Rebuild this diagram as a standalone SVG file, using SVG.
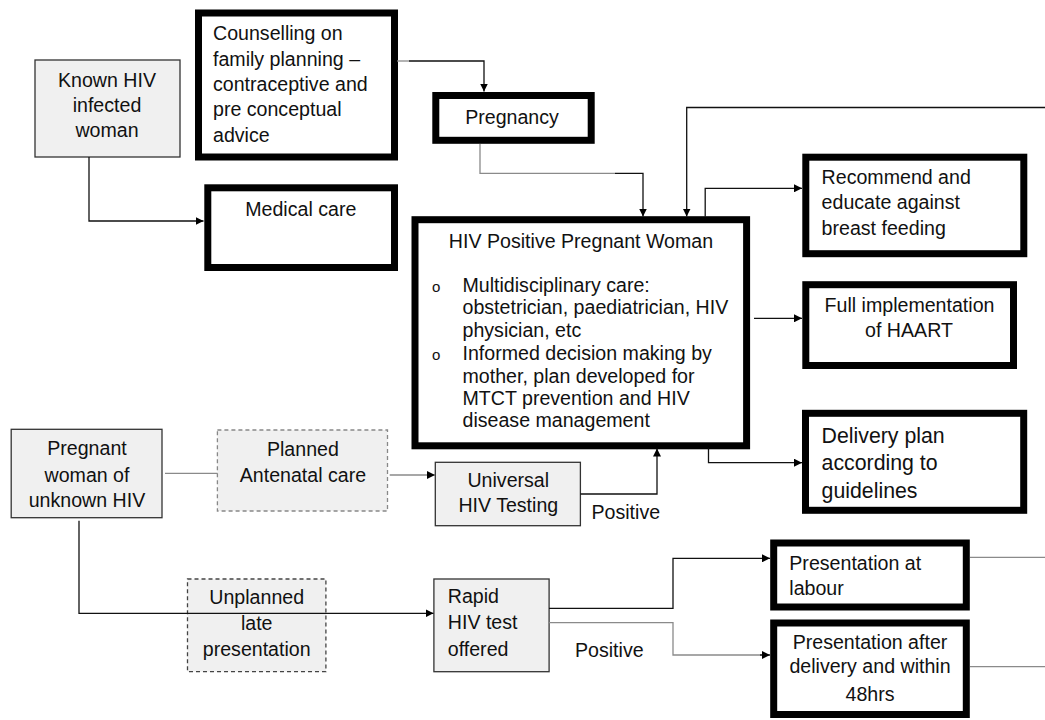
<svg xmlns="http://www.w3.org/2000/svg" width="1045" height="720" viewBox="0 0 1045 720">
<style>
text{font-family:"Liberation Sans",Arial,sans-serif;font-size:19.6px;fill:#111}
.c{text-anchor:middle}
.thick{fill:#fff;stroke:#000;stroke-width:7}
.thin{fill:#f0f0f0;stroke:#333;stroke-width:1.3}
.dash1{fill:#f0f0f0;stroke:#888;stroke-width:1.3;stroke-dasharray:4 3}
.dash2{fill:#f0f0f0;stroke:#444;stroke-width:1.3;stroke-dasharray:4 3}
.ln{fill:none;stroke:#111;stroke-width:1.3}
.lg{fill:none;stroke:#8a8a8a;stroke-width:1.3}
.big{font-size:21.3px}
.bul{font-size:15px}
</style>
<defs>
<marker id="ah" markerWidth="9" markerHeight="8" refX="8" refY="4" orient="auto" markerUnits="userSpaceOnUse">
<path d="M0,0 L8,4 L0,8 z" fill="#000"/>
</marker>
</defs>

<g id="known-hiv">
<rect class="thin" x="35" y="60" width="145" height="97"/>
<text class="c" x="107" y="87.3">Known HIV</text>
<text class="c" x="107" y="112">infected</text>
<text class="c" x="107" y="137.3">woman</text>
</g>

<g id="counselling">
<rect class="thick" x="198.5" y="13" width="196" height="144"/>
<text x="213" y="40">Counselling on</text>
<text x="213" y="65.5">family planning –</text>
<text x="213" y="90.7">contraceptive and</text>
<text x="213" y="116">pre conceptual</text>
<text x="213" y="141.7">advice</text>
</g>

<g id="medical-care">
<rect class="thick" x="207.8" y="187.8" width="186.7" height="79.7"/>
<text class="c" x="300.8" y="216">Medical care</text>
</g>

<g id="pregnancy">
<rect class="thick" x="435.8" y="95.5" width="155.4" height="44.8"/>
<text class="c" x="512" y="124.3">Pregnancy</text>
</g>

<g id="hiv-positive">
<rect class="thick" x="415" y="219.7" width="331.6" height="226.1"/>
<text class="c" x="581" y="248.3">HIV Positive Pregnant Woman</text>
<text class="c bul" x="436.2" y="292.3">o</text>
<text x="462.5" y="292.3">Multidisciplinary care:</text>
<text x="462.5" y="314.3">obstetrician, paediatrician, HIV</text>
<text x="462.5" y="336.7">physician, etc</text>
<text class="c bul" x="436.2" y="360">o</text>
<text x="462.5" y="360">Informed decision making by</text>
<text x="462.5" y="382.7">mother, plan developed for</text>
<text x="462.5" y="405">MTCT prevention and HIV</text>
<text x="462.5" y="426.7">disease management</text>
</g>

<g id="recommend">
<rect class="thick" x="805.8" y="157.2" width="218" height="96.5"/>
<text x="821.6" y="184.3">Recommend and</text>
<text x="821.6" y="209.3">educate against</text>
<text x="821.6" y="235">breast feeding</text>
</g>

<g id="haart">
<rect class="thick" x="805.8" y="284.7" width="207.7" height="80.8"/>
<text class="c" x="909.5" y="312.3">Full implementation</text>
<text class="c" x="909" y="336.7">of HAART</text>
</g>

<g id="delivery-plan">
<rect class="thick" x="805.5" y="413.3" width="218.2" height="97"/>
<text class="big" x="821.6" y="443.3">Delivery plan</text>
<text class="big" x="821.6" y="470">according to</text>
<text class="big" x="821.6" y="497.5">guidelines</text>
</g>

<g id="pregnant-unknown">
<rect class="thin" x="11.2" y="429.3" width="150.8" height="88.4"/>
<text class="c" x="87" y="455">Pregnant</text>
<text class="c" x="87" y="481.7">woman of</text>
<text class="c" x="87" y="506.7">unknown HIV</text>
</g>

<g id="planned-antenatal">
<rect class="dash1" x="217.4" y="430" width="170.1" height="81"/>
<text class="c" x="302.9" y="456">Planned</text>
<text class="c" x="302.9" y="481.7">Antenatal care</text>
</g>

<g id="universal-testing">
<rect class="thin" x="435.3" y="462.3" width="145.1" height="63.4"/>
<text class="c" x="508.3" y="486.7">Universal</text>
<text class="c" x="508.3" y="512">HIV Testing</text>
<text x="591.5" y="519.3">Positive</text>
</g>

<g id="unplanned-late">
<rect class="dash2" x="187.5" y="579" width="138.4" height="92.7"/>
<text class="c" x="256.7" y="604">Unplanned</text>
<text class="c" x="256.7" y="630">late</text>
<text class="c" x="256.7" y="656">presentation</text>
</g>

<g id="rapid-test">
<rect class="thin" x="433.9" y="579" width="115.2" height="92.7"/>
<text x="447.8" y="603">Rapid</text>
<text x="447.8" y="629.3">HIV test</text>
<text x="447.8" y="656">offered</text>
<text x="575" y="657.3">Positive</text>
</g>

<g id="presentation-labour">
<rect class="thick" x="773.7" y="543" width="192.6" height="64"/>
<text x="789.3" y="570">Presentation at</text>
<text x="789.3" y="595">labour</text>
</g>

<g id="presentation-after">
<rect class="thick" x="773.7" y="623" width="192.6" height="91.5"/>
<text class="c" x="870" y="649.3">Presentation after</text>
<text class="c" x="870" y="673">delivery and within</text>
<text class="c" x="870" y="700.7">48hrs</text>
</g>

<g id="connectors">
<path class="lg" d="M397,61 H409"/>
<path class="ln" d="M409,61 H484 V91.5" marker-end="url(#ah)"/>
<path class="ln" d="M89,157 V221 H203.5" marker-end="url(#ah)"/>
<path class="lg" d="M480,144 V173.3 H615"/>
<path class="ln" d="M615,173.3 H643 V216.5" marker-end="url(#ah)"/>
<path class="ln" d="M1045,107.5 H686.7 V216.5" marker-end="url(#ah)"/>
<path class="ln" d="M705.2,216.7 V188.3 H802" marker-end="url(#ah)"/>
<path class="ln" d="M754,318.3 H802" marker-end="url(#ah)"/>
<path class="ln" d="M708.5,448.3 V462.7 H802" marker-end="url(#ah)"/>
<path class="ln" d="M580.4,494 H657 V448.5" marker-end="url(#ah)"/>
<path class="lg" d="M165,473.3 H217.4"/>
<path class="lg" d="M389.7,475 H435" marker-end="url(#ah)"/>
<path class="ln" d="M79,520.7 V613.3 H433.5" marker-end="url(#ah)"/>
<path class="ln" d="M549,608.3 H673 V558.3 H770" marker-end="url(#ah)"/>
<path class="lg" d="M549,622.7 H673 V655 H762"/>
<path class="ln" d="M760,655 H770" marker-end="url(#ah)"/>
<path class="lg" d="M970,557.3 H1045"/>
<path class="lg" d="M970,666.7 H1045"/>
</g>
</svg>
